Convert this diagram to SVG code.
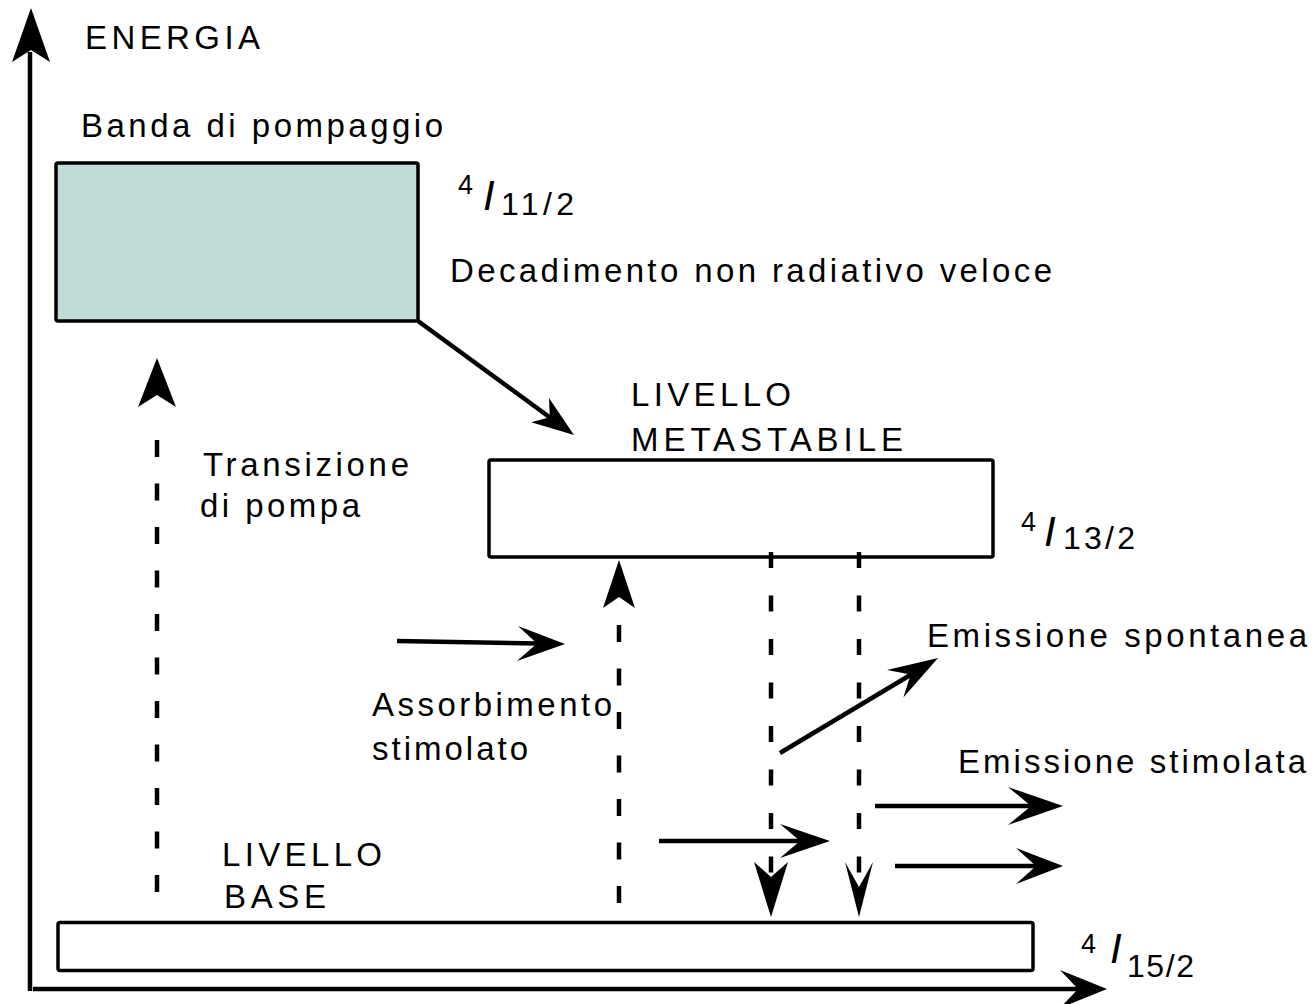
<svg xmlns="http://www.w3.org/2000/svg" width="1314" height="1004" viewBox="0 0 1314 1004">
<style>
  .t { font-family: "Liberation Sans", Arial, sans-serif; font-size: 33px; fill: #000; }
  .sup { font-family: "Liberation Sans", Arial, sans-serif; font-size: 27px; fill: #000; }
  .big { font-family: "Liberation Sans", Arial, sans-serif; font-size: 42px; font-style: italic; fill: #000; }
  .sub { font-family: "Liberation Sans", Arial, sans-serif; font-size: 32px; fill: #000; }
  .box { stroke: #000; stroke-width: 3.5; }
  .line { stroke: #000; stroke-width: 4.5; fill: none; }
  .dash { stroke: #000; stroke-width: 4.5; fill: none; stroke-dasharray: 17 26.5; }
  .head { fill: #000; stroke: none; }
</style>
<rect width="1314" height="1004" fill="#fff"/>

<g id="axes">
  <line class="line" x1="30" y1="991" x2="30" y2="52"/>
  <polygon class="head" points="31,8 50,62 31,50 12,62"/>
  <line class="line" x1="33" y1="989" x2="1080" y2="989"/>
  <polygon class="head" points="1107,989 1060,1008 1078,989 1060,970"/>
  <text class="t" x="85" y="49" textLength="175">ENERGIA</text>
</g>

<g id="pump-band">
  <rect class="box" x="56" y="163" width="362" height="158" rx="2" fill="#c0dcd8"/>
  <text class="t" x="81" y="137" textLength="362">Banda di pompaggio</text>
  <text class="sup" x="458" y="194">4</text>
  <text class="big" x="483" y="210">I</text>
  <text class="sub" x="501" y="215" textLength="73">11/2</text>
</g>

<g id="metastable">
  <rect class="box" x="489" y="460" width="504" height="97" rx="2" fill="#fff"/>
  <text class="t" x="631" y="406" textLength="160">LIVELLO</text>
  <text class="t" x="631" y="451" textLength="272">METASTABILE</text>
  <text class="sup" x="1021" y="531">4</text>
  <text class="big" x="1044" y="546">I</text>
  <text class="sub" x="1063" y="549" textLength="72">13/2</text>
</g>

<g id="ground">
  <rect class="box" x="58" y="922.5" width="975" height="48" rx="2" fill="#fff"/>
  <text class="t" x="222" y="866" textLength="160">LIVELLO</text>
  <text class="t" x="224" y="908" textLength="102">BASE</text>
  <text class="sup" x="1081" y="953">4</text>
  <text class="big" x="1110" y="963">I</text>
  <text class="sub" x="1127" y="977" textLength="67">15/2</text>
</g>

<g id="labels">
  <text class="t" x="450" y="282" textLength="602">Decadimento non radiativo veloce</text>
  <text class="t" x="203" y="476" textLength="206">Transizione</text>
  <text class="t" x="200" y="517" textLength="160">di pompa</text>
  <text class="t" x="372" y="716" textLength="240">Assorbimento</text>
  <text class="t" x="372" y="760" textLength="156">stimolato</text>
  <text class="t" x="927" y="647" textLength="380">Emissione spontanea</text>
  <text class="t" x="958" y="773" textLength="348">Emissione stimolata</text>
</g>

<g id="connectors">
  <!-- fast non-radiative decay -->
  <line class="line" x1="418" y1="321" x2="552" y2="419"/>
  <polygon class="head" points="574,435 531.2,422.3 549.8,417.3 549,398.1"/>

  <!-- pump transition -->
  <line class="dash" x1="157" y1="440" x2="157" y2="918"/>
  <polygon class="head" points="157,358 176,407 157,395 138,407"/>

  <!-- stimulated absorption -->
  <line class="dash" x1="619" y1="625" x2="619" y2="906"/>
  <polygon class="head" points="619,560 635,608 619,597 603,608"/>
  <line class="line" x1="397" y1="641" x2="540" y2="643.5"/>
  <polygon class="head" points="565,644 517,661 537,643.5 518,626"/>
  <line class="line" x1="659" y1="841" x2="805" y2="841"/>
  <polygon class="head" points="830,841 780,858 800,841 780,824"/>

  <!-- emissions (dashed downward) -->
  <line class="dash" x1="771" y1="552" x2="771" y2="877" style="stroke-dasharray:16 27.5"/>
  <polygon class="head" points="771,917 788,862 771,877 754,862"/>
  <line class="dash" x1="859" y1="552" x2="859" y2="885" style="stroke-dasharray:16 27.5"/>
  <polygon class="head" points="859,917 873,862 859,887 845,862"/>

  <!-- spontaneous emission -->
  <line class="line" x1="780" y1="753" x2="912" y2="674"/>
  <polygon class="head" points="938,658 903.4,697.5 910.6,674.5 887,670.1"/>

  <!-- stimulated emission -->
  <line class="line" x1="875" y1="806" x2="1038" y2="806"/>
  <polygon class="head" points="1063,806 1008,825 1031,806 1008,787"/>
  <line class="line" x1="895" y1="866" x2="1042" y2="866"/>
  <polygon class="head" points="1063,866 1016,884 1036,866 1016,848"/>
</g>
</svg>
